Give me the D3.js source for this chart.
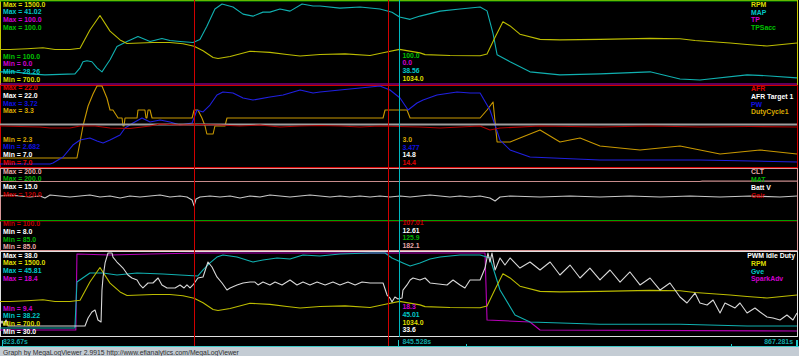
<!DOCTYPE html>
<html><head><meta charset="utf-8">
<script src="https://cdn.jsdelivr.net/npm/d3@7"></script>
<style>
body{margin:0;background:#000;overflow:hidden}
svg{display:block}
.lbl{font-family:"Liberation Sans",Arial,sans-serif;font-size:6.9px;font-weight:bold}
.status{font-family:"Liberation Sans",Arial,sans-serif;font-size:6.8px}
</style></head><body>
<svg id="c" width="799" height="356"></svg>
<script>
// ---------------- DATA ----------------
const timeStart = 823.67, timeEnd = 867.281, cursorTime = 845.528;
const markerTimes = [834.29, 844.90];
const stripTickTimes = [823.78, 845.45, 849.17, 863.67, 867.28];
const stripTickTall = [true, true, false, false, true];

// panel 1
const p1Names = ["RPM", "MAP", "TP", "TPSacc"];
const p1Max = [1500, 41.02, 100, 100];
const p1Min = [700, 28.26, 0, 100];
const p1Cursor = ["1034.0", "38.56", "0.0", "100.0"];
// panel 2
const p2Names = ["AFR", "AFR Target 1", "PW", "DutyCycle1"];
const p2Max = [22, 22, 3.72, 3.3];
const p2Min = [7, 7, 2.682, 2.3];
const p2Cursor = ["14.4", "14.8", "3.477", "3.0"];
// panel 3
const p3Names = ["CLT", "MAT", "Batt V", "Gair"];
const p3Max = [200, 200, 15, 120];
const p3Min = [85, 85, 8, 100];
const p3Cursor = ["182.1", "125.9", "12.61", "107.01"];
// panel 4
const p4Names = ["PWM Idle Duty", "RPM", "Gve", "SparkAdv"];
const p4Max = [38, 1500, 45.81, 18.4];
const p4Min = [30, 700, 38.22, 9.4];
const p4Cursor = ["33.6", "1034.0", "45.01", "18.3"];

const rpm = [[823.67,1032],[824.22,1032],[825.15,1040],[826.02,1050],[826.68,1032],[827.50,1032],[828.05,1045],[828.59,1220],[829.14,1360],[829.69,1210],[830.24,1125],[830.62,1090],[831.33,1095],[832.04,1100],[832.97,1100],[833.68,1088],[834.29,1063],[834.78,1020],[835.33,955],[835.60,945],[836.26,965],[837.35,1015],[838.44,1005],[839.37,985],[840.09,970],[841.18,985],[842.55,990],[843.92,975],[844.63,1002],[845.53,1034],[846.65,1000],[846.93,983],[848.29,975],[849.94,973],[850.32,990],[850.76,1150],[851.19,1300],[851.58,1260],[852.12,1180],[853.22,1130],[854.31,1125],[856.50,1130],[859.24,1140],[860.88,1136],[861.70,1120],[863.62,1095],[864.55,1080],[865.64,1066],[867.28,1095]];
const map = [[823.67,30.13],[824.49,30.13],[825.31,29.82],[826.13,29.66],[827.77,29.82],[828.05,30.75],[828.21,31.68],[828.43,31.84],[828.70,31.68],[828.98,30.75],[829.25,30.13],[829.47,31.06],[829.69,31.99],[830.07,34.02],[830.62,34.80],[831.22,35.57],[831.88,34.80],[832.53,35.26],[832.97,34.95],[833.52,34.80],[834.23,34.64],[834.61,35.11],[834.99,37.13],[835.43,39.78],[835.82,40.55],[836.42,40.09],[836.97,39.00],[837.51,38.69],[838.06,39.31],[838.44,39.31],[838.99,39.78],[839.54,39.46],[840.20,40.55],[840.80,40.24],[841.18,40.24],[842.27,39.93],[843.37,40.09],[844.46,39.78],[845.12,39.3],[845.53,38.56],[846.11,38.2],[846.65,38.7],[847.75,39.46],[848.84,39.78],[849.94,40.09],[850.32,39.5],[850.65,36.0],[850.87,32.77],[851.58,31.68],[852.67,30.13],[854.31,29.66],[856.50,29.82],[859.24,30.13],[860.88,29.04],[861.97,28.88],[864.55,29.66],[865.80,29.5],[867.28,29.2]];
const tp = [[823.67,0],[867.28,0]];
const tpsAcc = [[823.67,100],[867.28,100]];

const afr = [[823.67,14.5],[824.76,14.41],[825.86,14.31],[826.41,14.13],[827.50,14.13],[828.05,14.5],[828.87,14.5],[829.69,14.13],[830.78,14.03],[831.88,14.5],[832.43,14.88],[833.52,14.69],[834.61,14.78],[835.71,14.69],[836.80,14.5],[837.90,14.69],[838.99,14.31],[840.09,14.5],[841.18,14.6],[842.27,14.5],[843.37,14.31],[844.46,14.5],[845.53,14.4],[846.65,14.31],[847.75,14.13],[848.84,14.31],[849.94,14.5],[850.48,13.75],[851.03,14.13],[853.22,14.5],[856.50,14.31],[859.24,14.5],[861.97,14.31],[864.71,14.41],[867.28,14.31]];
const afrTarget = [[823.67,14.8],[867.28,14.8]];
const pw = [[823.67,2.708],[826.41,2.708],[826.57,2.721],[827.12,2.799],[827.66,2.954],[828.05,3.019],[828.59,3.045],[828.98,3.006],[829.31,2.98],[829.69,3.019],[830.24,3.084],[830.51,3.175],[830.95,3.24],[831.44,3.305],[831.88,3.253],[832.43,3.279],[832.97,3.253],[833.52,3.214],[834.18,3.24],[834.45,3.409],[834.78,3.383],[835.16,3.473],[835.54,3.603],[835.87,3.642],[836.42,3.629],[836.97,3.564],[837.51,3.538],[838.44,3.577],[839.16,3.603],[840.09,3.668],[840.80,3.629],[841.18,3.642],[842.27,3.668],[843.37,3.694],[843.92,3.707],[844.46,3.72],[845.01,3.668],[845.56,3.564],[846.00,3.409],[846.49,3.50],[846.82,3.538],[847.58,3.603],[848.68,3.642],[849.39,3.629],[849.94,3.629],[850.48,3.409],[851.03,3.019],[851.58,2.89],[852.67,2.799],[856.50,2.76],[861.97,2.76],[867.28,2.734]];
const duty = [[823.67,2.4],[827.88,2.4],[828.05,2.6],[828.21,2.8],[828.49,3.05],[828.76,3.2],[828.98,3.3],[829.25,3.3],[829.52,3.15],[829.69,3.0],[829.85,3.0],[830.13,2.9],[830.35,2.9],[830.40,2.8],[830.46,2.8],[830.51,2.9],[831.17,2.9],[831.22,3.0],[831.60,3.0],[831.66,2.9],[831.71,2.9],[831.77,3.0],[831.88,3.0],[831.99,2.9],[834.18,2.9],[834.29,3.0],[834.50,3.0],[834.72,2.9],[834.89,2.8],[834.99,2.7],[835.33,2.7],[835.43,2.8],[835.98,2.8],[836.09,2.9],[844.63,2.9],[844.74,3.0],[845.94,3.0],[846.11,2.9],[849.94,2.9],[850.32,3.0],[850.65,3.1],[850.87,2.6],[851.58,2.6],[852.12,2.65],[853.22,2.75],[854.31,2.6],[855.41,2.65],[856.50,2.55],[858.69,2.5],[860.88,2.55],[863.07,2.45],[865.26,2.5],[867.28,2.45]];

const clt = [[823.67,182.1],[861.97,182.1],[862.1,182.6],[867.28,182.6]];
const mat = [[823.67,125.9],[867.28,125.9]];
const battV = [[823.67,12.64],[824.22,12.73],[824.76,12.64],[825.31,12.55],[825.86,12.64],[826.13,12.46],[826.41,12.73],[826.95,12.64],[827.50,12.55],[828.05,12.64],[828.59,12.73],[829.14,12.55],[829.69,12.64],[830.24,12.46],[830.78,12.64],[831.33,12.55],[831.88,12.64],[832.43,12.73],[832.97,12.55],[833.52,12.64],[833.90,12.55],[834.18,12.29],[834.29,11.77],[834.40,12.38],[834.61,12.55],[835.16,12.64],[835.71,12.55],[836.26,12.64],[836.80,12.46],[837.35,12.64],[837.90,12.55],[838.44,12.73],[838.99,12.64],[839.54,12.55],[840.09,12.64],[840.63,12.73],[841.18,12.64],[841.73,12.55],[842.27,12.64],[842.82,12.55],[843.37,12.64],[843.92,12.55],[844.46,12.64],[845.01,12.55],[845.56,12.64],[846.11,12.55],[846.65,12.64],[847.20,12.73],[847.75,12.64],[848.29,12.55],[848.84,12.64],[849.39,12.55],[849.94,12.64],[850.48,12.46],[850.76,12.2],[851.03,12.55],[851.58,12.64],[853.22,12.55],[854.86,12.64],[856.50,12.55],[858.14,12.64],[859.79,12.55],[861.43,12.64],[863.07,12.55],[864.71,12.64],[866.35,12.55],[867.28,12.64]];
const gair = [[823.67,107.01],[867.28,107.01]];

const pwmIdle = [[823.67,31.06],[823.78,31.45],[823.89,31.06],[824.00,31.54],[824.11,30.96],[825.04,30.96],[828.32,30.96],[828.49,31.73],[828.70,32.31],[828.87,32.51],[829.03,31.54],[829.20,31.35],[829.25,34.43],[829.31,35.69],[829.42,37.04],[829.58,38],[829.80,38],[829.85,37.61],[830.07,37.13],[830.24,36.84],[830.40,36.55],[830.67,35.88],[830.89,35.59],[831.17,35.40],[831.33,34.92],[831.49,34.63],[831.77,35.11],[832.04,35.11],[832.32,35.59],[832.53,34.92],[832.81,34.63],[833.25,34.63],[833.52,34.92],[833.74,34.63],[833.90,34.92],[834.07,34.63],[834.23,34.92],[834.50,35.59],[834.78,35.69],[835.05,37.13],[835.27,36.65],[835.54,35.69],[835.82,35.11],[836.09,34.43],[836.26,34.63],[836.64,34.92],[836.97,35.11],[837.35,35.20],[837.62,35.20],[837.79,34.92],[838.06,35.20],[838.44,34.92],[838.72,35.20],[839.10,34.92],[839.54,35.40],[839.92,34.92],[840.25,35.20],[840.63,34.92],[841.02,35.20],[841.46,34.92],[841.89,35.20],[842.27,34.92],[842.71,35.20],[843.10,34.92],[843.48,35.20],[843.92,35.11],[844.63,35.11],[844.85,33.95],[845.01,33.66],[845.12,33.28],[845.28,33.76],[845.45,33.57],[845.67,33.66],[845.72,34.43],[845.94,34.92],[846.11,35.40],[846.27,35.59],[846.65,35.40],[846.93,35.59],[847.20,35.11],[848.13,34.92],[848.46,35.40],[848.84,34.92],[849.11,34.63],[849.39,35.40],[849.94,35.40],[850.21,36.55],[850.37,38],[850.48,37.13],[850.59,38],[850.76,36.36],[851.03,37.52],[851.30,36.84],[851.58,37.52],[852.12,36.55],[852.67,37.13],[853.22,36.36],[853.77,37.13],[854.31,35.88],[854.86,36.84],[855.41,35.59],[855.95,36.55],[856.50,35.40],[857.05,36.36],[857.60,35.20],[858.14,36.17],[858.69,34.92],[859.24,35.59],[859.79,34.43],[860.33,35.11],[860.88,33.76],[861.26,33.18],[861.70,34.14],[861.97,33.18],[862.36,32.99],[862.69,33.47],[863.07,32.22],[863.34,33.18],[863.89,32.70],[864.16,33.18],[864.55,32.22],[864.98,32.70],[865.26,32.31],[865.64,31.83],[865.97,31.73],[866.35,31.54],[866.73,32.02],[867.06,31.54],[867.28,32.22]];
const gve = [[823.67,38.95],[827.77,38.95],[827.88,43.16],[828.59,43.98],[829.31,43.98],[830.07,43.80],[831.17,43.98],[832.59,43.89],[833.52,43.80],[834.50,43.71],[834.78,44.26],[835.16,44.90],[835.54,45.44],[835.87,45.63],[836.64,45.44],[837.51,44.99],[838.06,45.17],[838.83,45.35],[839.54,45.26],[840.25,45.63],[841.18,45.54],[842.27,45.72],[843.92,45.81],[844.74,45.81],[845.12,45.35],[845.72,44.90],[846.11,44.62],[846.65,44.90],[847.20,45.26],[847.75,45.44],[848.84,45.63],[849.94,45.63],[850.48,45.35],[851.03,42.43],[851.85,40.14],[852.67,39.5],[856.50,39.3],[860.88,39.3],[864.55,39.13],[867.28,39.13]];
const sparkAdv = [[823.67,10.05],[827.82,10.05],[827.88,18.29],[829.69,18.18],[831.88,18.29],[834.61,18.4],[850.21,18.4],[850.32,11.14],[852.67,10.92],[853.22,10.05],[867.28,9.94]];

// ---------------- STYLES / LAYOUT ----------------
const C = {
  yellow:{t:"#dede00", l:"#bcbc00"}, cyan:{t:"#00c8c8", l:"#10b0b0"}, magenta:{t:"#d000d0", l:"#b800b8"},
  green:{t:"#00c000", l:"#00a800"}, red:{t:"#e00000", l:"#b00000"}, white:{t:"#ffffff", l:"#a0a0a0"},
  blue:{t:"#1010e0", l:"#2020e0"}, gold:{t:"#d8a800", l:"#c89800"}, salmon:{t:"#e8a8a8", l:"#c88c8c"},
  dgreen:{t:"#00b000", l:"#00a000"}, dred:{t:"#c00000", l:"#a00000"}, bwhite:{t:"#ffffff", l:"#c8c8c8"},
  pwm:{t:"#ffffff", l:"#d8d8d8"}
};
const step = 7.75;
const panels = [
  {y0:0, y1:85, ly0:1, ly1:84, frame:"#c8c800", names:p1Names, max:p1Max, min:p1Min, cur:p1Cursor,
   data:[rpm, map, tp, tpsAcc], col:[C.yellow, C.cyan, C.magenta, C.green], maxY:4.0, minY:56.2, curY:55.0, legY:4.4},
  {y0:85, y1:167, ly0:86, ly1:166, frame:"#d00000", names:p2Names, max:p2Max, min:p2Min, cur:p2Cursor,
   data:[afr, afrTarget, pw, duty], col:[C.red, C.white, C.blue, C.gold], maxY:87.6, minY:139.0, curY:139.4, legY:88.6},
  {y0:168, y1:250, ly0:169, ly1:249, frame:"#d89898", names:p3Names, max:p3Max, min:p3Min, cur:p3Cursor,
   data:[clt, mat, battV, gair], col:[C.salmon, C.dgreen, C.bwhite, C.dred], maxY:171, minY:223.6, curY:222.4, legY:171.8},
  {y0:251, y1:336, ly0:253, ly1:336, frame:"#e0e0e0", names:p4Names, max:p4Max, min:p4Min, cur:p4Cursor,
   data:[pwmIdle, rpm, gve, sparkAdv], col:[C.pwm, C.yellow, C.cyan, C.magenta], maxY:255.2, minY:308.0, curY:306.7, legY:255.6}
];
const fmt = v => Number.isInteger(v) ? v.toFixed(1) : String(v);

const svg = d3.select("#c");
svg.append("rect").attr("width",799).attr("height",356).attr("fill","#000");
const x = d3.scaleLinear().domain([timeStart, timeEnd]).range([0, 797]);

panels.forEach((p, pi) => {
  const clipId = "clip" + pi;
  svg.append("clipPath").attr("id", clipId).append("rect")
    .attr("x", 0).attr("y", p.y0).attr("width", 798).attr("height", p.y1 - p.y0 + 1);
  svg.append("rect").attr("x", 0.5).attr("y", p.y0 + 0.5).attr("width", 797).attr("height", p.y1 - p.y0)
    .attr("fill", "none").attr("stroke", p.frame).attr("stroke-width", 1);
  const g = svg.append("g").attr("clip-path", `url(#${clipId})`);
  for (let i = p.data.length - 1; i >= 0; i--) {
    const lo = p.min[i], hi = p.max[i];
    const y = d3.scaleLinear().domain(lo === hi ? [lo - 1, hi] : [lo, hi]).range([p.ly1, p.ly0]);
    const line = d3.line().x(d => x(d[0])).y(d => y(d[1]));
    g.append("path").datum(p.data[i]).attr("d", line).attr("fill", "none")
      .attr("stroke", p.col[i].l).attr("stroke-width", (pi === 1 && i === 1) ? 2 : 1.1)
      .attr("stroke-linejoin", "round");
  }
});

// vertical markers
svg.selectAll(".mk").data(markerTimes).enter().append("line")
  .attr("x1", d => Math.round(x(d)) + 0.5).attr("x2", d => Math.round(x(d)) + 0.5)
  .attr("y1", 0).attr("y2", 347).attr("stroke", "#d00000").attr("stroke-width", 1);
svg.append("line").attr("x1", Math.round(x(cursorTime)) + 0.5).attr("x2", Math.round(x(cursorTime)) + 0.5)
  .attr("y1", 0).attr("y2", 337).attr("stroke", "#00b8c0").attr("stroke-width", 1);

// labels
panels.forEach(p => {
  const n = p.names.length;
  p.names.forEach((nm, i) => {
    svg.append("text").attr("class", "lbl").attr("x", 3).attr("y", p.maxY + i * step)
      .attr("dominant-baseline", "central").attr("fill", p.col[i].t).text(`Max = ${fmt(p.max[i])}`);
    const j = n - 1 - i;
    svg.append("text").attr("class", "lbl").attr("x", 3).attr("y", p.minY + i * step)
      .attr("dominant-baseline", "central").attr("fill", p.col[j].t).text(`Min = ${fmt(p.min[j])}`);
    svg.append("text").attr("class", "lbl").attr("x", x(cursorTime) + 3).attr("y", p.curY + i * step)
      .attr("dominant-baseline", "central").attr("fill", p.col[j].t).text(p.cur[j]);
    const t = svg.append("text").attr("class", "lbl").attr("y", p.legY + i * step)
      .attr("dominant-baseline", "central").attr("fill", p.col[i].t).text(nm);
    const w = t.node().getComputedTextLength();
    t.attr("x", Math.min(751, 795 - w));
  });
});

// bottom strip
svg.append("line").attr("x1", 0).attr("x2", 799).attr("y1", 346.5).attr("y2", 346.5).attr("stroke", "#40c8c8");
svg.selectAll(".tk").data(stripTickTimes).enter().append("rect")
  .attr("x", d => Math.min(796, Math.round(x(d)))).attr("width", (d, i) => i === 4 ? 2 : 1)
  .attr("y", (d, i) => stripTickTall[i] ? 340 : 344).attr("height", (d, i) => stripTickTall[i] ? 7 : 3)
  .attr("fill", "#20c8c8");
const tf = d3.format(".3~f");
svg.append("text").attr("class", "lbl").attr("x", 3).attr("y", 341).attr("dominant-baseline", "central")
  .attr("fill", "#10a8a8").text(tf(timeStart) + "s");
svg.append("text").attr("class", "lbl").attr("x", x(cursorTime) + 3).attr("y", 341.7).attr("dominant-baseline", "central")
  .attr("fill", "#10a8a8").text(tf(cursorTime) + "s");
svg.append("text").attr("class", "lbl").attr("x", 793).attr("y", 341).attr("dominant-baseline", "central")
  .attr("text-anchor", "end").attr("fill", "#10a8a8").text(tf(timeEnd) + "s");

// status bar
svg.append("rect").attr("x", 0).attr("y", 347).attr("width", 799).attr("height", 9).attr("fill", "#c4ccd4");
svg.append("text").attr("class", "status").attr("x", 3).attr("y", 352).attr("dominant-baseline", "central")
  .attr("fill", "#303030").text("Graph by MegaLogViewer 2.9915 http://www.efianalytics.com/MegaLogViewer");
</script>
</body></html>
